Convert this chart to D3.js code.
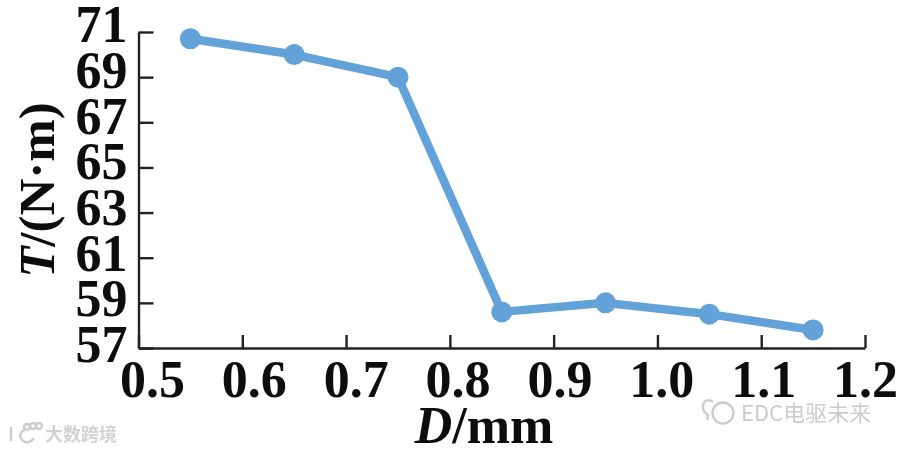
<!DOCTYPE html>
<html>
<head>
<meta charset="utf-8">
<script src="https://cdn.jsdelivr.net/npm/d3@7"></script>
<style>
html,body{margin:0;padding:0;background:#fff;}
svg{display:block;}
text{font-family:"Liberation Serif",serif;font-weight:bold;fill:#111;}
</style>
</head>
<body>
<div id="chart"></div>
<script>
// values
var diameters = [0.55, 0.65, 0.75, 0.85, 0.95, 1.05, 1.15];
var torques = [70.7, 70.0, 69.0, 58.6, 59.0, 58.5, 57.8];
var xTicks = [0.5, 0.6, 0.7, 0.8, 0.9, 1.0, 1.1, 1.2];
var yTicks = [57, 59, 61, 63, 65, 67, 69, 71];

var root = d3.select("#chart").append("svg").attr("width", 900).attr("height", 451);

// the original is a soft scan, a slight blur gets closer to it
root.append("filter").attr("id", "soft").append("feGaussianBlur").attr("stdDeviation", 0.55);
var svg = root.append("g").attr("filter", "url(#soft)");

var x = d3.scaleLinear().domain([0.5, 1.2]).range([138.5, 865]);
var y = d3.scaleLinear().domain([57, 71]).range([348, 32]);

// the labels in the original do not sit quite on their ticks
var xLabel = d3.scaleLinear().domain([0.5, 1.2]).range([152, 865]);
var yLabel = d3.scaleLinear().domain([57, 71]).range([345, 25]);

var xAxis = svg.append("g").attr("transform", "translate(0,348)")
  .call(d3.axisBottom(x).tickValues(xTicks).tickSize(-13).tickSizeOuter(0).tickFormat(d3.format(".1f")));
var yAxis = svg.append("g").attr("transform", "translate(138.5,0)")
  .call(d3.axisLeft(y).tickValues(yTicks).tickSize(-15).tickSizeOuter(0));

xAxis.selectAll("text").attr("transform", null)
  .attr("x", function(d) { return xLabel(d) - x(d); }).attr("y", 32).attr("dy", "0.32em")
  .style("font-size", "52px").style("font-family", "Liberation Serif").attr("fill", "#111");
yAxis.selectAll("text")
  .attr("x", -11).attr("y", function(d) { return yLabel(d) - y(d); }).attr("dy", "0.32em")
  .style("font-size", "52px").style("font-family", "Liberation Serif").attr("fill", "#111");

svg.selectAll(".domain, .tick line").attr("stroke", "#222").attr("stroke-width", 2.4);

var line = d3.line().x(function(d, i) { return x(diameters[i]); }).y(function(d) { return y(d); });

svg.append("path").datum(torques).attr("d", line)
  .attr("fill", "none").attr("stroke", "#62a2d9").attr("stroke-width", 8.5).attr("stroke-linejoin", "round");

svg.selectAll("circle.pt").data(torques).enter().append("circle").attr("class", "pt")
  .attr("cx", function(d, i) { return x(diameters[i]); })
  .attr("cy", function(d) { return y(d); })
  .attr("r", 10.5).attr("fill", "#62a2d9");

// axis titles
var yTitle = svg.append("text").attr("transform", "translate(54,190) rotate(-90)")
  .attr("text-anchor", "middle").style("font-size", "51px");
yTitle.append("tspan").style("font-style", "italic").text("T");
yTitle.append("tspan").text("/(N·m)");

var xTitle = svg.append("text").attr("x", 484).attr("y", 443)
  .attr("text-anchor", "middle").style("font-size", "52px");
xTitle.append("tspan").style("font-style", "italic").text("D");
xTitle.append("tspan").text("/mm");

// watermarks
var mark = svg.append("g").attr("fill", "none").attr("stroke", "#cccccc").attr("stroke-width", 2.4);
mark.append("circle").attr("cx", 723).attr("cy", 413).attr("r", 10.5);
mark.append("path").attr("d", "M713 402C708 398 703 401 703 407C703 411 705 413 708 415L707 420");
mark.append("path").attr("d", "M11 427V441M27 428C20 432 18 436 23 441C28 444 32 441 34 438");
mark.append("circle").attr("cx", 27).attr("cy", 427).attr("r", 3);
mark.append("circle").attr("cx", 33).attr("cy", 426).attr("r", 3);
mark.append("circle").attr("cx", 39).attr("cy", 426).attr("r", 3);

svg.append("text").attr("x", 45).attr("y", 441)
  .style("font-family", "Noto Sans CJK SC").style("font-weight", "bold").style("font-size", "18px").style("fill", "#d2d2d2")
  .text("大数跨境");
svg.append("text").attr("x", 741).attr("y", 421)
  .style("font-family", "Noto Sans CJK SC").style("font-weight", "normal").style("font-size", "22px").style("fill", "#cccccc")
  .text("EDC电驱未来");
</script>
</body>
</html>
